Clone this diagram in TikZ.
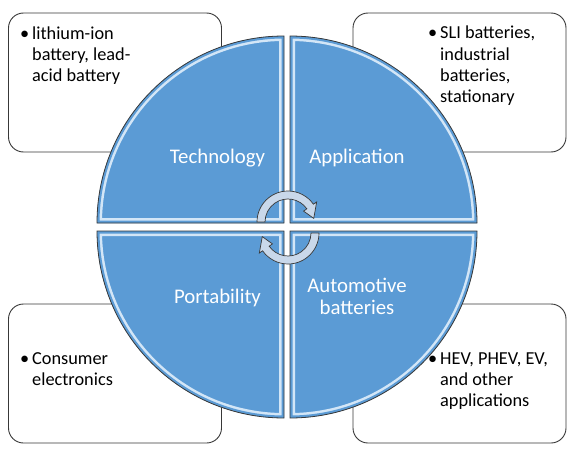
\documentclass[tikz,border=0pt]{standalone}
\usepackage{fontspec}
\setmainfont{Carlito}
\usepackage{xcolor}
\usepackage{tikz}

\definecolor{quarterblue}{HTML}{5B9BD5}
\definecolor{bevellight}{HTML}{D3E6F7}
\definecolor{edgegray}{HTML}{383838}
\definecolor{arrowfill}{HTML}{C9D8EA}

\newcommand{\bulletmark}{\llap{•\hspace{3pt}}}

\begin{document}
\begin{tikzpicture}[x=1pt, y=1pt,
    infobox/.style={draw=edgegray, line width=0.9pt, fill=white, rounded corners=15pt,
        minimum width=213pt, minimum height=139pt, inner sep=0pt},
    infotext/.style={anchor=base west, align=left, inner sep=0pt,
        font=\fontsize{18.3}{21}\selectfont},
    quarterlabel/.style={anchor=base, align=center, inner sep=0pt, text=white,
        font=\fontsize{20.8}{22}\selectfont},
    cyclearrow/.style={fill=arrowfill, draw=edgegray, line width=0.7pt}]
    \useasboundingbox (0,0) rectangle (583,451);

    % Side boxes
    \node[infobox] (techbox) at (115,368.5) {};
    \node[infobox] (appbox) at (459.5,368.5) {};
    \node[infobox] (portbox) at (115,77.5) {};
    \node[infobox] (autobox) at (459.5,77.5) {};

    % Quarters with bevel
    \foreach \cx/\cy/\rot in {284/228/0, 290/228/-90, 290/220/180, 284/220/90} {
        \begin{scope}[shift={(\cx,\cy)}, rotate=\rot]
            \begin{scope}
                \clip (0,0) -- (-187,0) arc (180:90:187) -- cycle;
                \fill[quarterblue] (0,0) -- (-187,0) arc (180:90:187) -- cycle;
                \draw[bevellight, line width=10] (0,0) -- (-187,0) arc (180:90:187) -- cycle;
                \draw[quarterblue, line width=5] (0,0) -- (-187,0) arc (180:90:187) -- cycle;
            \end{scope}
            \draw[edgegray, line width=0.8pt] (0,0) -- (-187,0) arc (180:90:187) -- cycle;
        \end{scope}
    }

    % Quarter labels (base = last line)
    \node[quarterlabel] (tech) at (217.5,288) {Technology};
    \node[quarterlabel] (app) at (357,288) {Application};
    \node[quarterlabel] (port) at (217.5,148) {Portability};
    \node[quarterlabel] (auto) at (357,137) {Automotive\\batteries};

    % Cycle arrows
    \begin{scope}[shift={(288,229)}]
        \draw[cyclearrow] (180:31) arc (180:35:31) -- (35:35) -- (8:26) -- (35:19)
            -- (35:23) arc (35:180:23) -- cycle;
    \end{scope}
    \begin{scope}[shift={(288,218)}, rotate=180]
        \draw[cyclearrow] (180:31) arc (180:35:31) -- (35:35) -- (8:26) -- (35:19)
            -- (35:23) arc (35:180:23) -- cycle;
    \end{scope}

    % Box texts (base = last line)
    \node[infotext] (techtext) at (32,370) {\bulletmark lithium-ion\\battery, lead-\\acid battery};
    \node[infotext] (apptext) at (440,349) {\bulletmark SLI batteries,\\industrial\\batteries,\\stationary};
    \node[infotext] (porttext) at (32,66) {\bulletmark Consumer\\electronics};
    \node[infotext] (autotext) at (440,45) {\bulletmark HEV, PHEV, EV,\\and other\\applications};
\end{tikzpicture}
\end{document}
